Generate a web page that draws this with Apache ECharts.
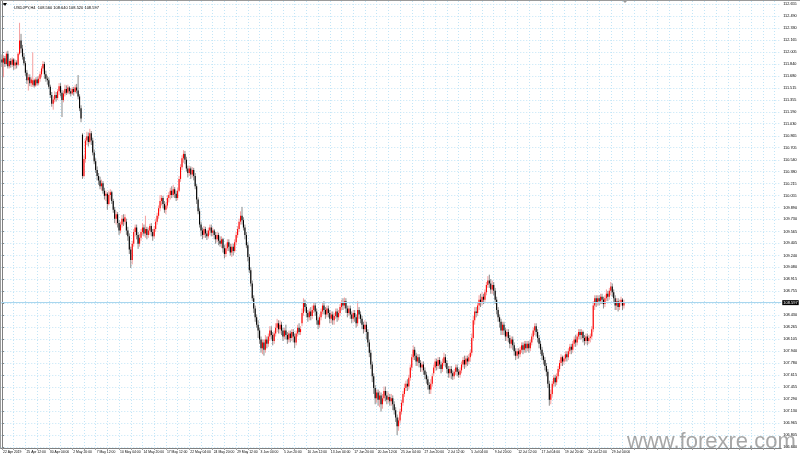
<!DOCTYPE html>
<html><head><meta charset="utf-8">
<script src="https://cdn.jsdelivr.net/npm/echarts@6/dist/echarts.min.js"></script>
<style>html,body{margin:0;padding:0;background:#fff}#c{width:800px;height:457px}</style>
</head><body><div id="c"></div>
<script>
// USDJPY H4 bars, rows are [open, close, low, high], one array per week
const w0422=[[111.90,111.86,111.80,111.97],[111.86,111.92,111.66,111.96],[111.92,111.84,111.80,111.95],[111.84,111.98,111.82,112.01],[111.98,111.81,111.78,112.02],[111.81,111.88,111.78,111.91],[111.88,111.83,111.79,111.92],[111.83,111.90,111.80,111.93],[111.90,111.82,111.76,111.92],[111.82,111.86,111.77,111.90],[111.86,111.83,111.78,111.89],[111.83,111.98,111.81,112.00],[111.98,112.16,111.96,112.40],[112.16,112.05,111.99,112.25],[112.05,111.94,111.90,112.10],[111.94,111.85,111.82,111.99],[111.85,111.72,111.68,111.88],[111.72,111.62,111.57,111.76],[111.62,111.66,111.48,111.70],[111.66,111.58,111.54,111.70],[111.58,111.63,111.53,111.66],[111.56,111.62,111.53,112.00],[111.62,111.55,111.52,111.64],[111.55,111.63,111.53,111.66],[111.63,111.58,111.55,111.67]];
const w0429=[[111.58,111.64,111.55,111.68],[111.64,111.70,111.60,111.74],[111.70,111.78,111.66,111.81],[111.78,111.84,111.74,111.88],[111.84,111.70,111.64,111.87],[111.70,111.64,111.60,111.75],[111.64,111.62,111.56,111.68],[111.62,111.53,111.50,111.66],[111.53,111.42,111.38,111.56],[111.42,111.30,111.26,111.46],[111.30,111.36,111.22,111.40],[111.36,111.42,111.32,111.47],[111.42,111.38,111.33,111.46],[111.38,111.47,111.35,111.50],[111.47,111.54,111.42,111.58],[111.54,111.45,111.40,111.58],[111.45,111.35,111.12,111.49],[111.35,111.44,111.32,111.48],[111.44,111.50,111.40,111.56],[111.50,111.45,111.42,111.55],[111.45,111.52,111.43,111.56],[111.52,111.47,111.43,111.54],[111.47,111.44,111.40,111.51],[111.44,111.50,111.42,111.53],[111.50,111.46,111.41,111.53],[111.46,111.52,111.44,111.56],[111.52,111.48,111.44,111.57],[111.48,111.40,111.36,111.69],[111.40,111.24,111.20,111.43],[111.24,111.10,111.05,111.28]];
const w0506=[[110.88,110.32,110.28,110.90],[110.32,110.55,110.30,110.60],[110.55,110.80,110.50,110.84],[110.80,110.86,110.74,110.92],[110.86,110.78,110.72,110.91],[110.78,110.90,110.76,110.96],[110.90,110.80,110.74,110.93],[110.80,110.64,110.60,110.84],[110.64,110.52,110.48,110.68],[110.52,110.40,110.36,110.56],[110.40,110.32,110.26,110.45],[110.32,110.26,110.20,110.36],[110.26,110.18,110.14,110.31],[110.18,110.22,110.12,110.27],[110.22,110.12,110.08,110.25],[110.12,110.05,110.00,110.16],[110.05,110.08,109.98,110.12],[110.08,109.94,109.86,110.10],[109.94,110.06,109.92,110.12],[110.06,110.10,110.00,110.14],[110.10,109.98,109.94,110.12],[109.98,109.86,109.82,110.01],[109.86,109.74,109.68,109.90],[109.74,109.80,109.66,109.84],[109.80,109.68,109.62,109.83],[109.68,109.58,109.52,109.72],[109.58,109.66,109.54,109.70],[109.66,109.74,109.62,109.79],[109.74,109.70,109.64,109.80],[109.70,109.76,109.66,109.80]];
const w0513=[[109.70,109.58,109.52,109.74],[109.58,109.50,109.44,109.63],[109.50,109.32,109.26,109.54],[109.32,109.18,109.07,109.36],[109.18,109.40,109.12,109.44],[109.40,109.56,109.36,109.60],[109.56,109.62,109.50,109.66],[109.62,109.52,109.46,109.66],[109.52,109.40,109.33,109.56],[109.40,109.48,109.36,109.53],[109.48,109.56,109.44,109.60],[109.56,109.62,109.52,109.68],[109.62,109.54,109.50,109.66],[109.54,109.60,109.48,109.78],[109.60,109.52,109.46,109.63],[109.52,109.58,109.48,109.62],[109.58,109.64,109.52,109.67],[109.64,109.56,109.50,109.68],[109.56,109.50,109.44,109.60],[109.50,109.60,109.47,109.64],[109.60,109.70,109.56,109.74],[109.70,109.78,109.66,109.82],[109.78,109.88,109.74,109.92],[109.88,109.98,109.84,110.06],[109.98,110.02,109.92,110.06],[110.02,109.94,109.88,110.05],[109.94,109.86,109.82,109.98],[109.86,109.92,109.80,109.96],[109.92,110.02,109.88,110.06],[110.02,110.06,109.96,110.10]];
const w0520=[[110.06,110.12,110.00,110.16],[110.12,110.06,110.02,110.18],[110.06,110.14,110.03,110.20],[110.14,110.08,110.02,110.17],[110.08,110.02,109.98,110.12],[110.02,110.12,109.99,110.16],[110.12,110.28,110.10,110.32],[110.28,110.44,110.24,110.48],[110.44,110.56,110.40,110.60],[110.56,110.62,110.50,110.67],[110.62,110.54,110.48,110.66],[110.54,110.42,110.38,110.58],[110.42,110.36,110.30,110.46],[110.36,110.42,110.32,110.46],[110.42,110.34,110.28,110.45],[110.34,110.40,110.30,110.44],[110.40,110.32,110.26,110.43],[110.32,110.18,110.14,110.36],[110.18,110.00,109.94,110.21],[110.00,109.84,109.80,110.03],[109.84,109.66,109.62,109.88],[109.66,109.58,109.50,109.70],[109.58,109.52,109.46,109.62],[109.52,109.60,109.48,109.64],[109.60,109.54,109.48,109.63],[109.54,109.50,109.45,109.58],[109.50,109.58,109.47,109.62],[109.58,109.62,109.52,109.66],[109.62,109.55,109.50,109.66],[109.55,109.58,109.50,109.62]];
const w0527=[[109.58,109.52,109.46,109.60],[109.52,109.46,109.40,109.56],[109.46,109.52,109.42,109.56],[109.52,109.44,109.38,109.55],[109.44,109.40,109.36,109.50],[109.40,109.46,109.34,109.50],[109.46,109.34,109.28,109.48],[109.34,109.26,109.20,109.38],[109.26,109.34,109.22,109.40],[109.34,109.42,109.30,109.46],[109.42,109.36,109.30,109.46],[109.36,109.28,109.24,109.40],[109.28,109.36,109.22,109.40],[109.36,109.30,109.24,109.40],[109.30,109.42,109.28,109.46],[109.42,109.52,109.38,109.56],[109.52,109.60,109.48,109.64],[109.60,109.70,109.56,109.74],[109.70,109.78,109.66,109.84],[109.78,109.72,109.66,109.90],[109.72,109.62,109.58,109.76],[109.62,109.52,109.46,109.66],[109.52,109.38,109.34,109.56],[109.38,109.22,109.16,109.42],[109.22,109.04,109.00,109.26],[109.04,108.86,108.82,109.08],[108.86,108.66,108.62,108.90],[108.66,108.52,108.46,108.70],[108.52,108.40,108.34,108.56],[108.40,108.30,108.26,108.44]];
const w0603=[[108.30,108.22,108.12,108.36],[108.22,108.10,108.04,108.26],[108.10,107.98,107.92,108.14],[107.98,108.06,107.90,108.10],[108.06,107.96,107.88,108.10],[107.96,108.10,107.92,108.16],[108.10,108.04,107.98,108.14],[108.04,108.14,108.00,108.18],[108.14,108.22,108.08,108.28],[108.22,108.16,108.10,108.28],[108.16,108.08,108.02,108.20],[108.08,108.18,108.04,108.22],[108.18,108.26,108.14,108.32],[108.26,108.32,108.20,108.38],[108.32,108.24,108.18,108.36],[108.24,108.30,108.18,108.36],[108.30,108.22,108.16,108.34],[108.22,108.14,108.08,108.26],[108.14,108.22,108.10,108.26],[108.22,108.16,108.10,108.30],[108.16,108.10,108.04,108.20],[108.10,108.18,108.06,108.22],[108.18,108.12,108.06,108.22],[108.12,108.20,108.08,108.24],[108.20,108.14,108.06,108.24],[108.14,108.06,107.98,108.18],[108.06,108.18,108.02,108.22],[108.18,108.26,108.14,108.30],[108.26,108.20,108.16,108.32],[108.20,108.24,108.16,108.28]];
const w0610=[[108.32,108.46,108.28,108.52],[108.46,108.60,108.42,108.66],[108.60,108.54,108.48,108.64],[108.54,108.46,108.40,108.58],[108.46,108.40,108.34,108.50],[108.40,108.48,108.36,108.52],[108.48,108.42,108.36,108.54],[108.42,108.50,108.38,108.56],[108.50,108.56,108.46,108.60],[108.56,108.48,108.42,108.60],[108.48,108.36,108.30,108.52],[108.36,108.30,108.24,108.40],[108.30,108.40,108.26,108.44],[108.40,108.48,108.36,108.52],[108.48,108.56,108.44,108.60],[108.56,108.50,108.44,108.62],[108.50,108.44,108.38,108.54],[108.44,108.52,108.40,108.56],[108.52,108.46,108.40,108.56],[108.46,108.38,108.32,108.50],[108.38,108.44,108.32,108.48],[108.44,108.36,108.30,108.48],[108.36,108.42,108.30,108.46],[108.42,108.48,108.38,108.52],[108.48,108.40,108.34,108.52],[108.40,108.46,108.36,108.50],[108.46,108.54,108.42,108.58],[108.54,108.60,108.50,108.64],[108.60,108.56,108.50,108.66],[108.56,108.62,108.52,108.67]];
const w0617=[[108.62,108.52,108.46,108.66],[108.52,108.46,108.40,108.56],[108.46,108.52,108.42,108.56],[108.52,108.44,108.38,108.56],[108.44,108.38,108.32,108.48],[108.38,108.46,108.34,108.50],[108.46,108.40,108.34,108.50],[108.40,108.32,108.26,108.44],[108.32,108.50,108.28,108.62],[108.50,108.44,108.38,108.54],[108.44,108.38,108.32,108.48],[108.38,108.30,108.24,108.42],[108.30,108.24,108.18,108.34],[108.24,108.30,108.20,108.36],[108.30,108.20,108.10,108.34],[108.20,108.06,108.00,108.24],[108.06,107.92,107.86,108.10],[107.92,107.76,107.70,107.96],[107.76,107.60,107.52,107.80],[107.60,107.44,107.36,107.64],[107.44,107.30,107.22,107.48],[107.30,107.38,107.24,107.42],[107.38,107.28,107.20,107.42],[107.28,107.34,107.18,107.40],[107.34,107.22,107.12,107.38],[107.22,107.30,107.16,107.36],[107.30,107.40,107.26,107.46],[107.40,107.34,107.26,107.46],[107.34,107.28,107.22,107.40],[107.28,107.32,107.24,107.38]];
const w0624=[[107.32,107.26,107.20,107.36],[107.26,107.30,107.20,107.36],[107.30,107.22,107.14,107.34],[107.22,107.14,107.08,107.26],[107.14,107.04,106.98,107.18],[107.04,106.92,106.80,107.08],[106.92,107.00,106.86,107.04],[107.00,107.12,106.96,107.16],[107.12,107.24,107.08,107.28],[107.24,107.36,107.20,107.40],[107.36,107.44,107.32,107.50],[107.44,107.50,107.40,107.54],[107.50,107.46,107.40,107.56],[107.46,107.58,107.42,107.62],[107.58,107.72,107.54,107.76],[107.72,107.86,107.68,107.90],[107.86,107.96,107.82,108.02],[107.96,107.88,107.82,108.00],[107.88,107.80,107.74,107.92],[107.80,107.86,107.74,107.90],[107.86,107.78,107.72,107.90],[107.78,107.72,107.66,107.82],[107.72,107.76,107.66,107.80],[107.76,107.68,107.62,107.80],[107.68,107.62,107.56,107.72],[107.62,107.56,107.50,107.66],[107.56,107.48,107.42,107.60],[107.48,107.42,107.36,107.52],[107.42,107.50,107.36,107.56],[107.50,107.60,107.46,107.64]];
const w0701=[[107.64,107.72,107.60,107.76],[107.72,107.80,107.68,107.84],[107.80,107.74,107.68,107.84],[107.74,107.82,107.70,107.86],[107.82,107.76,107.70,107.86],[107.76,107.70,107.64,107.80],[107.70,107.78,107.66,107.84],[107.78,107.86,107.74,107.92],[107.86,107.78,107.72,107.90],[107.78,107.70,107.64,107.82],[107.70,107.64,107.58,107.74],[107.64,107.70,107.58,107.74],[107.70,107.64,107.56,107.74],[107.64,107.60,107.55,107.68],[107.60,107.66,107.56,107.70],[107.66,107.72,107.62,107.76],[107.72,107.66,107.60,107.76],[107.66,107.62,107.58,107.70],[107.62,107.68,107.58,107.72],[107.68,107.76,107.64,107.80],[107.76,107.82,107.72,107.86],[107.82,107.76,107.70,107.88],[107.76,107.84,107.72,107.88],[107.84,107.80,107.74,107.88],[107.80,107.86,107.76,107.90],[107.86,107.92,107.80,107.96],[107.92,108.12,107.88,108.18],[108.12,108.36,108.08,108.42],[108.36,108.48,108.30,108.54],[108.48,108.46,108.40,108.54]];
const w0708=[[108.46,108.56,108.42,108.60],[108.56,108.64,108.50,108.70],[108.64,108.60,108.54,108.72],[108.60,108.68,108.56,108.74],[108.68,108.64,108.58,108.72],[108.64,108.74,108.60,108.78],[108.74,108.84,108.70,108.88],[108.84,108.90,108.80,108.96],[108.90,108.86,108.80,108.98],[108.86,108.78,108.72,108.92],[108.78,108.84,108.72,108.90],[108.84,108.76,108.70,108.88],[108.76,108.64,108.58,108.80],[108.64,108.50,108.44,108.68],[108.50,108.40,108.34,108.54],[108.40,108.34,108.26,108.44],[108.34,108.22,108.16,108.38],[108.22,108.30,108.16,108.34],[108.30,108.22,108.16,108.34],[108.22,108.14,108.08,108.26],[108.14,108.20,108.08,108.24],[108.20,108.12,108.06,108.24],[108.12,108.04,107.98,108.16],[108.04,108.10,107.98,108.14],[108.10,108.02,107.96,108.14],[108.02,107.94,107.88,108.06],[107.94,107.88,107.82,107.98],[107.88,107.94,107.84,107.98],[107.94,107.90,107.84,107.98],[107.90,107.96,107.86,108.00]];
const w0715=[[107.96,108.02,107.92,108.06],[108.02,107.96,107.90,108.06],[107.96,108.04,107.92,108.08],[108.04,107.98,107.92,108.08],[107.98,108.04,107.94,108.08],[108.04,107.98,107.92,108.08],[107.98,108.06,107.94,108.10],[108.06,108.14,108.02,108.18],[108.14,108.22,108.10,108.26],[108.22,108.28,108.16,108.32],[108.28,108.20,108.14,108.32],[108.20,108.12,108.06,108.24],[108.12,108.04,107.98,108.16],[108.04,107.96,107.90,108.08],[107.96,107.88,107.82,108.00],[107.88,107.82,107.76,107.92],[107.82,107.74,107.68,107.86],[107.74,107.66,107.60,107.78],[107.66,107.50,107.44,107.70],[107.50,107.28,107.20,107.54],[107.28,107.36,107.22,107.42],[107.36,107.50,107.32,107.54],[107.50,107.58,107.46,107.62],[107.58,107.52,107.46,107.62],[107.52,107.60,107.48,107.64],[107.60,107.70,107.56,107.74],[107.70,107.78,107.66,107.82],[107.78,107.86,107.74,107.90],[107.86,107.80,107.74,107.88],[107.80,107.84,107.76,107.88]];
const w0722=[[107.84,107.90,107.80,107.94],[107.90,107.86,107.80,107.94],[107.86,107.94,107.82,107.98],[107.94,108.00,107.90,108.04],[108.00,107.96,107.90,108.04],[107.96,108.04,107.92,108.08],[108.04,108.10,108.00,108.14],[108.10,108.06,108.00,108.16],[108.06,108.14,108.02,108.18],[108.14,108.20,108.10,108.24],[108.20,108.16,108.10,108.24],[108.16,108.20,108.10,108.24],[108.20,108.12,108.06,108.22],[108.12,108.08,108.02,108.16],[108.08,108.14,108.04,108.18],[108.14,108.08,108.02,108.18],[108.08,108.12,108.04,108.16],[108.12,108.14,108.06,108.18],[108.14,108.24,108.10,108.28],[108.24,108.56,108.20,108.62],[108.56,108.66,108.50,108.70],[108.66,108.60,108.54,108.70],[108.60,108.66,108.56,108.70],[108.66,108.62,108.56,108.70],[108.62,108.68,108.58,108.72],[108.68,108.64,108.58,108.72],[108.64,108.58,108.52,108.68],[108.58,108.66,108.54,108.70],[108.66,108.72,108.62,108.78],[108.72,108.68,108.62,108.76]];
const w0729=[[108.68,108.76,108.64,108.80],[108.76,108.82,108.70,108.88],[108.82,108.74,108.68,108.86],[108.74,108.66,108.60,108.78],[108.66,108.56,108.50,108.70],[108.56,108.62,108.50,108.66],[108.62,108.54,108.48,108.66],[108.54,108.60,108.50,108.64],[108.60,108.64,108.56,108.68],[108.64,108.56,108.50,108.66],[108.56,108.597,108.52,108.64]];

const dateLabels=["22 Apr 2019","25 Apr 12:00","30 Apr 04:00","2 May 20:00","7 May 12:00","10 May 04:00","14 May 20:00","17 May 12:00","22 May 04:00","24 May 20:00","29 May 12:00","3 Jun 04:00","5 Jun 20:00","10 Jun 12:00","13 Jun 04:00","17 Jun 20:00","20 Jun 12:00","25 Jun 04:00","27 Jun 20:00","2 Jul 12:00","5 Jul 04:00","9 Jul 20:00","12 Jul 12:00","17 Jul 04:00","19 Jul 20:00","24 Jul 12:00","29 Jul 04:00"];
const priceLabels=["112.655","112.490","112.330","112.165","112.005","111.840","111.680","111.515","111.355","111.190","111.030","110.865","110.705","110.540","110.380","110.215","110.055","109.890","109.730","109.565","109.405","109.240","109.080","108.915","108.755","108.590","108.430","108.265","108.105","107.940","107.780","107.615","107.455","107.290","107.130","106.965","106.805","106.640"];
const symbol="USDJPY,H4";

const weeks=[w0422,w0429,w0506,w0513,w0520,w0527,w0603,w0610,w0617,w0624,w0701,w0708,w0715,w0722,w0729];
const bars=[].concat(...weeks);
const rows=bars.map((b,i)=>[i,b[0],b[1],b[2],b[3]]);
const last=bars[bars.length-1];
const BARS_PER_LABEL=16, BARS_PER_GRID=8, SLOTS=533;
const gridVals=[];for(let v=0;v<SLOTS;v+=BARS_PER_GRID)gridVals.push(v);
const labelVals=dateLabels.map((_,k)=>k*BARS_PER_LABEL);
const yVals=priceLabels.map(Number);

const chart=echarts.init(document.getElementById('c'),null,{renderer:'canvas'});
const font='Liberation Sans';
function renderItem(params,api){
  const x=api.value(0),o=api.value(1),c=api.value(2),l=api.value(3),h=api.value(4);
  const pO=api.coord([x,o]),pC=api.coord([x,c]),pL=api.coord([x,l]),pH=api.coord([x,h]);
  const up=c>=o;
  const bw=api.size([1,0])[0]*0.75;
  const top=Math.min(pO[1],pC[1]);
  const bh=Math.max(Math.abs(pO[1]-pC[1]),1);
  return {type:'group',children:[
    {type:'line',shape:{x1:pL[0],y1:pL[1],x2:pH[0],y2:pH[1]},style:{stroke:up?'#f4a0a0':'#8a8a8a',lineWidth:1}},
    {type:'rect',shape:{x:pO[0]-bw/2,y:top,width:bw,height:bh},style:{fill:up?'#ff0000':'#000000'}}
  ]};
}
const gridLine={show:true,lineStyle:{color:'#c2e5f7',width:1,type:[1,2]}};
chart.setOption({
  animation:false,
  backgroundColor:'#ffffff',
  grid:{left:1,right:18,top:1,bottom:9,containLabel:false},
  title:{text:symbol+'  '+[last[0],last[3],last[2],last[1]].map(v=>v.toFixed(3)).join(' '),left:9,top:1,textStyle:{fontSize:4,fontWeight:'normal',color:'#000',fontFamily:font}},
  xAxis:{type:'value',min:-0.5,max:SLOTS-0.5,
    axisLine:{show:true,lineStyle:{color:'#808080'}},
    axisTick:{show:true,length:2,customValues:gridVals,lineStyle:{color:'#a0a0a0'}},
    axisLabel:{show:true,customValues:labelVals,fontSize:3.4,color:'#000',fontFamily:font,margin:2.5,align:'left',padding:[0,0,0,1],formatter:v=>dateLabels[Math.round(v/BARS_PER_LABEL)]||''},
    splitLine:gridLine},
  yAxis:{type:'value',position:'right',min:106.626,max:112.696,scale:true,
    axisLine:{show:true,lineStyle:{color:'#808080'}},
    axisTick:{show:true,length:2,customValues:yVals,lineStyle:{color:'#808080'}},
    axisLabel:{show:true,customValues:yVals,fontSize:3.8,color:'#000',fontFamily:font,margin:2,formatter:v=>v.toFixed(3)},
    splitLine:gridLine},
  graphic:[
    {type:'rect',left:0,top:0,shape:{width:800,height:1},style:{fill:'#9a9a9a'},z:100},
    {type:'rect',left:0,top:0,shape:{width:1,height:449},style:{fill:'#9a9a9a'},z:100},
    {type:'polygon',shape:{points:[[3,3],[7,3],[5,6]]},style:{fill:'#000'},z:100},
    {type:'polygon',shape:{points:[[622,0],[628,0],[625,3]]},style:{fill:'#9a9a9a'},z:100},
    {type:'text',left:627,top:431,style:{text:'www.forexre.com',fontSize:22,fontFamily:font,fill:'rgba(130,130,130,0.7)'},z:100}
  ],
  series:[{type:'custom',renderItem,data:rows,encode:{x:0,y:[1,2,3,4]},clip:true,
    markLine:{silent:true,symbol:'none',animation:false,
      lineStyle:{color:'#a9d6ee',type:'solid',width:1},
      label:{show:true,position:'end',distance:1,formatter:()=>last[1].toFixed(3),fontSize:4,color:'#fff',backgroundColor:'#000',padding:[1,1,0,1],fontFamily:font},
      data:[{yAxis:last[1]}]}}]
});
</script></body></html>
